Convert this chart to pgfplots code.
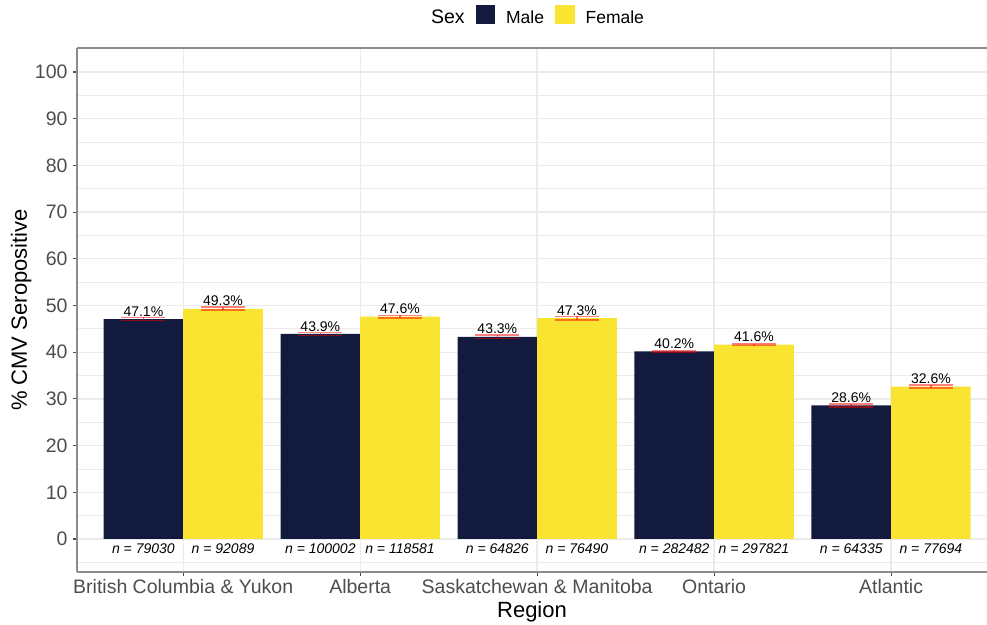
\documentclass[border=0pt]{standalone}
\usepackage{fontspec}
\setmainfont{Liberation Sans}
\usepackage{pgfplots}
\pgfplotsset{compat=1.18}

\definecolor{maleblue}{RGB}{18,26,62}
\definecolor{femaleyellow}{RGB}{250,228,50}
\definecolor{gridgray}{RGB}{235,235,235}
\definecolor{ticktext}{RGB}{77,77,77}
\definecolor{framegray}{RGB}{140,140,140}

\pgfplotsset{
  regionbar/.style={ybar, bar width=0.45, bar shift=0pt, fill=#1, draw=none,
    legend image code/.code={\fill[#1] (0pt,-7pt) rectangle (19.5pt,12.5pt);},
    nodes near coords={\pgfmathprintnumber[fixed,fixed zerofill,precision=1]{\pgfplotspointmeta}\%},
    every node near coord/.append style={font=\fontsize{14}{16}\selectfont, anchor=south,
      inner sep=0pt, yshift=2.5pt, text=black},
    error bars/y dir=both, error bars/y explicit,
    error bars/error mark=|,
    error bars/error bar style={draw=red, line width=1.6pt, draw opacity=0.5},
    error bars/error mark options={draw=red, line width=1.6pt, mark size=22pt, draw opacity=0.5}},
}

\begin{document}
\begin{tikzpicture}
\begin{axis}[
  at={(77pt,52pt)}, anchor=south west,
  scale only axis, width=910pt, height=524pt,
  xmin=-0.6, xmax=4.542, ymin=-7.07, ymax=105.14,
  axis lines=left,
  axis line style={-, draw=framegray, line width=1.1pt},
  xtick={0,1,2,3,4},
  xticklabels={British Columbia \& Yukon, Alberta, Saskatchewan \& Manitoba, Ontario, Atlantic},
  ytick={0,10,...,100},
  minor ytick={-5,5,...,105},
  xmajorgrids, ymajorgrids, yminorgrids,
  major grid style={draw=gridgray, line width=1.3pt},
  minor grid style={draw=gridgray, line width=0.8pt},
  tick align=outside, major tick length=4pt, minor tick length=0pt,
  tick style={draw=ticktext, line width=1.1pt},
  /pgf/number format/assume math mode=true,
  tick label style={font=\fontsize{19.5}{23}\selectfont, text=ticktext},
  yticklabel style={xshift=-2pt},
  xlabel={Region},
  xlabel style={font=\fontsize{22}{26}\selectfont, at={([yshift=-45pt]axis description cs:0.5,0)}, anchor=base},
  ylabel={\% CMV Seropositive},
  ylabel style={font=\fontsize{22}{26}\selectfont, at={([xshift=-50pt]axis description cs:0,0.5)}, anchor=base},
  legend columns=-1,
  legend style={at={([xshift=1pt,yshift=32pt]axis description cs:0.5,1)}, anchor=center,
    draw=none, fill=none, font=\fontsize{17.5}{20}\selectfont,
    /tikz/every odd column/.append style={column sep=9pt},
    /tikz/every even column/.append style={column sep=9pt}},
  after end axis/.code={
    \draw[framegray, line width=1.1pt] (rel axis cs:0,1) -- (rel axis cs:1,1);
  },
]
\addlegendimage{empty legend}
\addlegendentry{\fontsize{19.5}{22}\selectfont Sex}

% Male bars sit left of each region centre
\addplot[regionbar=maleblue]
coordinates {
  (-0.225,47.1) +- (0,0.35)
  (0.775,43.9) +- (0,0.31)
  (1.775,43.3) +- (0,0.38)
  (2.775,40.2) +- (0,0.18)
  (3.775,28.6) +- (0,0.35)
};
\addlegendentry{Male}

% Female bars sit right of each region centre
\addplot[regionbar=femaleyellow]
coordinates {
  (0.225,49.3) +- (0,0.32)
  (1.225,47.6) +- (0,0.28)
  (2.225,47.3) +- (0,0.35)
  (3.225,41.6) +- (0,0.18)
  (4.225,32.6) +- (0,0.33)
};
\addlegendentry{Female}

% sample sizes under each bar
\addplot[forget plot, draw=none, mark=none, nodes near coords={n = \pgfplotspointmeta},
  point meta=explicit symbolic,
  every node near coord/.style={anchor=center, inner sep=0pt, font=\itshape\fontsize{14}{16}\selectfont, text=black}]
coordinates {
  (-0.225,-2.1) [79030]
  (0.225,-2.1) [92089]
  (0.775,-2.1) [100002]
  (1.225,-2.1) [118581]
  (1.775,-2.1) [64826]
  (2.225,-2.1) [76490]
  (2.775,-2.1) [282482]
  (3.225,-2.1) [297821]
  (3.775,-2.1) [64335]
  (4.225,-2.1) [77694]
};
\end{axis}
\pgfresetboundingbox
\useasboundingbox (0,0) rectangle (987pt,624pt);
\end{tikzpicture}
\end{document}
